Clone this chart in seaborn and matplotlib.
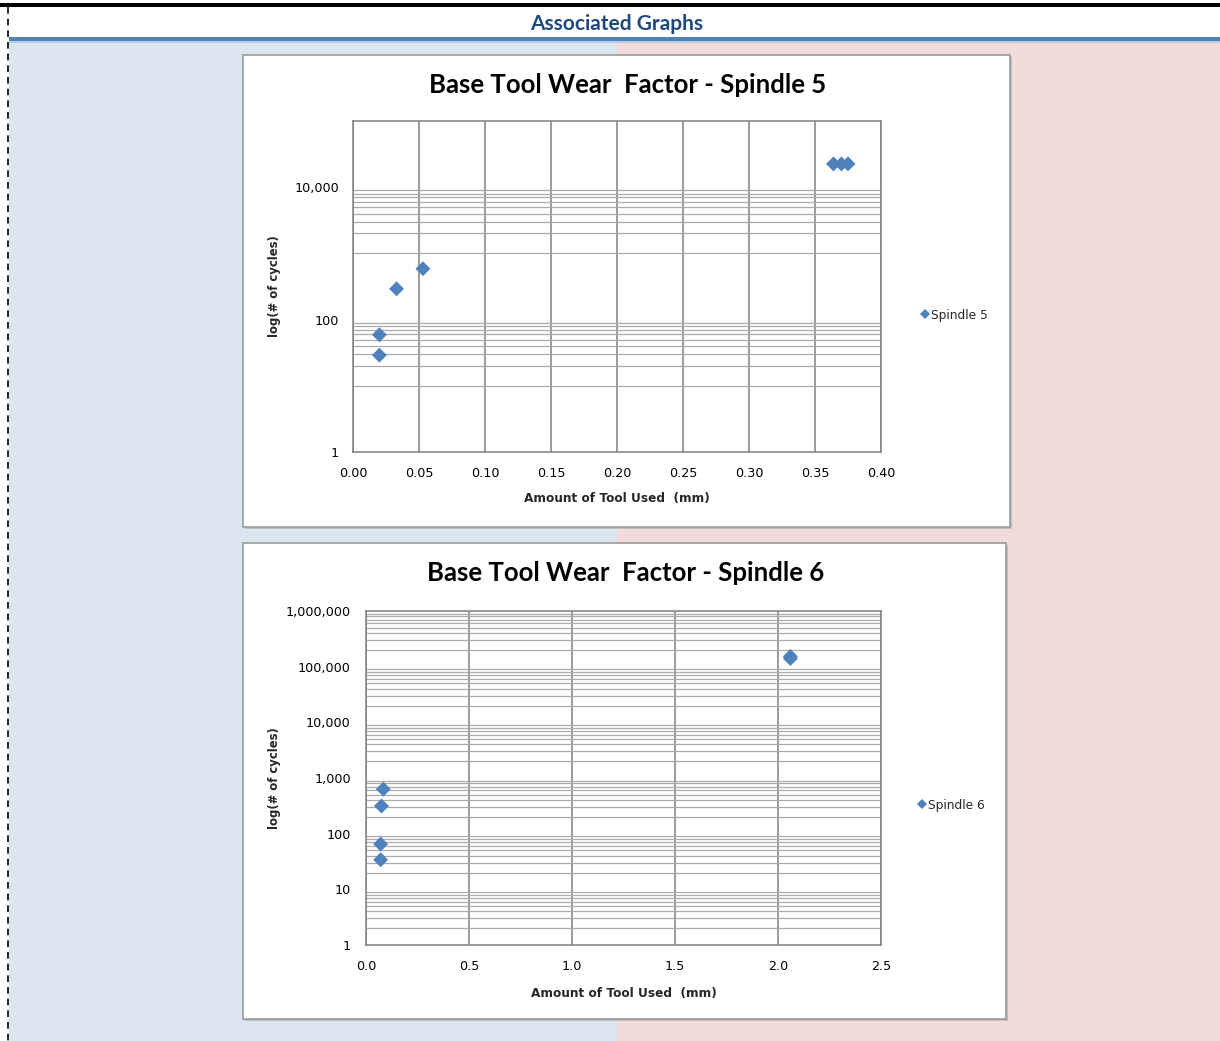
import numpy as np
import pandas as pd
import matplotlib
matplotlib.use("Agg")
import matplotlib.pyplot as plt
from matplotlib.patches import Rectangle
from matplotlib.lines import Line2D
from matplotlib.ticker import FixedLocator, FuncFormatter, NullFormatter
import seaborn as sns

# ---- data -------------------------------------------------------------
spindle5_used_mm = [0.020, 0.020, 0.033, 0.053, 0.364, 0.370, 0.375]
spindle5_cycles = [29, 59, 292, 587, 22500, 22500, 22500]

spindle6_used_mm = [0.071, 0.071, 0.075, 0.084, 2.06, 2.06]
spindle6_cycles = [34, 65, 314, 631, 140000, 153000]

spindle5_xticks = [0.00, 0.05, 0.10, 0.15, 0.20, 0.25, 0.30, 0.35, 0.40]
spindle5_yticks = [1, 100, 10000]
spindle6_xticks = [0.0, 0.5, 1.0, 1.5, 2.0, 2.5]
spindle6_yticks = [1, 10, 100, 1000, 10000, 100000, 1000000]

header_text = "Associated Graphs"
title5 = "Base Tool Wear  Factor - Spindle 5"
title6 = "Base Tool Wear  Factor - Spindle 6"
x_label = "Amount of Tool Used  (mm)"
y_label = "log(# of cycles)"

df5 = pd.DataFrame({"used": spindle5_used_mm, "cycles": spindle5_cycles})
df6 = pd.DataFrame({"used": spindle6_used_mm, "cycles": spindle6_cycles})

# ---- style ------------------------------------------------------------
sns.set_style("white")
plt.rcParams["font.family"] = ["DejaVu Sans"]

W, H = 1220, 1041
fig = plt.figure(figsize=(W / 100, H / 100), dpi=100)
fig.patch.set_facecolor("white")

# page background drawn in pixel coordinates
bg = fig.add_axes([0, 0, 1, 1], zorder=-10)
bg.set_xlim(0, W)
bg.set_ylim(H, 0)
bg.axis("off")
bg.add_patch(Rectangle((9, 42), 608, H - 42, color="#DCE6F1", lw=0))
bg.add_patch(Rectangle((617, 42), W - 617, H - 42, color="#F2DCDB", lw=0))
bg.add_patch(Rectangle((0, 3), W, 4, color="black", lw=0))
bg.add_patch(Rectangle((9, 37), W - 9, 4, color="#4F81BD", lw=0))
bg.add_patch(Rectangle((9, 41), W - 9, 2, color="#B8CCE4", lw=0))
bg.plot([8, 8], [7, H], color="black", lw=1.2, ls=(0, (4, 3)))
bg.text(617, 24, header_text, ha="center", va="center", fontsize=15,
        fontweight="bold", color="#1F497D", family="Lato")

# chart boxes with a faint shadow
for (x0, y0, x1, y1) in [(243, 55, 1010, 527), (243, 543, 1006, 1019)]:
    bg.add_patch(Rectangle((x0 + 2, y0 + 2), x1 - x0, y1 - y0,
                           color="#BFBFBF", lw=0))
    bg.add_patch(Rectangle((x0, y0), x1 - x0, y1 - y0, facecolor="white",
                           edgecolor="#9A9A9A", lw=1.2))

bg.text(628, 85, title5, ha="center", va="center", fontsize=18.5,
        fontweight="bold", family="Lato", color="black")
bg.text(626, 573, title6, ha="center", va="center", fontsize=18.5,
        fontweight="bold", family="Lato", color="black")


def axes_rect(left, top, right, bottom):
    return [left / W, 1 - bottom / H, (right - left) / W, (bottom - top) / H]


MARK = "#4F81BD"
VGRID = "#808080"
HGRID = "#ABABAB"


def style_axes(ax, xticks, xfmt, yticks, yminor, ylim, xlabel_y, ylabel_x,
               xpad, ypad):
    ax.set_yscale("log")
    ax.set_xlim(xticks[0], xticks[-1])
    ax.set_ylim(*ylim)
    ax.xaxis.set_major_locator(FixedLocator(xticks))
    ax.xaxis.set_major_formatter(FuncFormatter(lambda v, p: xfmt.format(v)))
    ax.yaxis.set_major_locator(FixedLocator(yticks))
    ax.yaxis.set_major_formatter(FuncFormatter(lambda v, p: f"{int(round(v)):,}"))
    ax.yaxis.set_minor_locator(FixedLocator(yminor))
    ax.yaxis.set_minor_formatter(NullFormatter())
    ax.grid(False)
    ax.grid(True, which="major", axis="x", color=VGRID, lw=1.1)
    ax.grid(True, which="minor", axis="y", color=HGRID, lw=0.9)
    ax.set_axisbelow(True)
    for s in ax.spines.values():
        s.set_color(VGRID)
        s.set_linewidth(1.1)
        s.set_visible(True)
    ax.tick_params(axis="both", which="both", length=0, labelsize=9.2,
                   colors="black")
    ax.tick_params(axis="x", pad=xpad)
    ax.tick_params(axis="y", pad=ypad)
    ax.set_xlabel(x_label, fontsize=8.7, fontweight="bold")
    ax.set_ylabel(y_label, fontsize=8.4, fontweight="bold")
    ax.xaxis.set_label_coords(0.5, xlabel_y)
    ax.yaxis.set_label_coords(ylabel_x, 0.5)
    ax.set_facecolor("white")


# ---- Spindle 5 --------------------------------------------------------
ax5 = fig.add_axes(axes_rect(353, 121, 881, 452))
sns.scatterplot(data=df5, x="used", y="cycles", ax=ax5, marker="D", s=58,
                color=MARK, edgecolor="none", label="Spindle 5", zorder=3)
minor5 = [k * 10 for k in range(1, 10)] + [k * 1000 for k in range(1, 10)]
style_axes(ax5, spindle5_xticks, "{:.2f}", spindle5_yticks, minor5,
           (1, 100000), -0.121, -0.137, 11, 10)

# ---- Spindle 6 --------------------------------------------------------
ax6 = fig.add_axes(axes_rect(366, 611, 881, 945))
sns.scatterplot(data=df6, x="used", y="cycles", ax=ax6, marker="D", s=58,
                color=MARK, edgecolor="none", label="Spindle 6", zorder=3)
minor6 = [k * 10 ** e for e in range(0, 6) for k in range(1, 11)]
style_axes(ax6, spindle6_xticks, "{:.1f}", spindle6_yticks, minor6,
           (1, 1000000), -0.126, -0.165, 11, 11)

# legends sit to the right of each plot area
for ax, name, (lx, ly) in [(ax5, "Spindle 5", (921, 315)),
                           (ax6, "Spindle 6", (918, 805))]:
    handle = Line2D([], [], marker="D", color=MARK, lw=0, markersize=5,
                    markeredgewidth=0)
    ax.legend([handle], [name], loc="center left",
              bbox_to_anchor=(lx / W, 1 - ly / H), bbox_transform=fig.transFigure,
              frameon=False, fontsize=8.8, handlelength=0.6, handletextpad=0.25,
              borderpad=0, borderaxespad=0)

fig.savefig("out.png", dpi=100)
